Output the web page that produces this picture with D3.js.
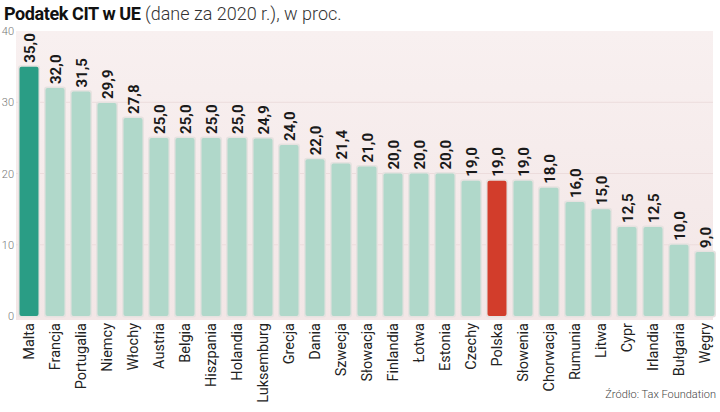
<!DOCTYPE html>
<html>
<head>
<meta charset="utf-8">
<script src="https://cdn.jsdelivr.net/npm/d3@7"></script>
<style>
  body { margin: 0; background: #fff; }
  svg { display: block; }
</style>
</head>
<body>
<svg id="chart" width="720" height="412"></svg>
<script>
// CIT rates in the EU, 2020
const countries = ['Malta', 'Francja', 'Portugalia', 'Niemcy', 'Włochy', 'Austria', 'Belgia',
    'Hiszpania', 'Holandia', 'Luksemburg', 'Grecja', 'Dania', 'Szwecja', 'Słowacja', 'Finlandia',
    'Łotwa', 'Estonia', 'Czechy', 'Polska', 'Słowenia', 'Chorwacja', 'Rumunia', 'Litwa', 'Cypr',
    'Irlandia', 'Bułgaria', 'Węgry'];
const rates = [35.0, 32.0, 31.5, 29.9, 27.8, 25.0, 25.0, 25.0, 25.0, 24.9, 24.0, 22.0, 21.4, 21.0,
    20.0, 20.0, 20.0, 19.0, 19.0, 19.0, 18.0, 16.0, 15.0, 12.5, 12.5, 10.0, 9.0];
const yTicks = [0, 10, 20, 30, 40];

const dataset = countries.map((c, i) => ({ name: c, value: rates[i] }));

const svg = d3.select('#chart');
const plotLeft = 16, plotRight = 713, plotTop = 31, plotBottom = 316;

//background gradient
const defs = svg.append('defs');
const grad = defs.append('linearGradient')
    .attr('id', 'bg').attr('x1', 0).attr('y1', 0).attr('x2', 0).attr('y2', 1);
grad.append('stop').attr('offset', '0%').attr('stop-color', '#f8f0f0');
grad.append('stop').attr('offset', '100%').attr('stop-color', '#f3e6e6');

svg.append('rect')
    .attr('x', plotLeft).attr('y', plotTop)
    .attr('width', plotRight - plotLeft).attr('height', plotBottom - plotTop + 4)
    .attr('fill', 'url(#bg)');

let xScale = d3.scaleBand()
    .domain(countries)
    .range([plotLeft, plotLeft + 26 * countries.length])
    .paddingInner(0.27)
    .paddingOuter(0.135);

let yScale = d3.scaleLinear()
    .domain([0, 40])
    .range([plotBottom, plotTop]);

//grid lines
svg.append('g')
    .selectAll('line')
    .data(yTicks.slice(1, 4))
    .enter()
    .append('line')
    .attr('x1', plotLeft).attr('x2', plotRight)
    .attr('y1', d => yScale(d)).attr('y2', d => yScale(d))
    .attr('stroke', '#ecdcdc')
    .attr('stroke-width', 1);

//y axis labels
let yAxis = d3.axisLeft(yScale).tickValues(yTicks).tickSize(0).tickPadding(0);
svg.append('g')
    .attr('transform', `translate(14,0)`)
    .call(yAxis)
    .call(g => g.select('.domain').remove())
    .selectAll('text')
    .attr('font-family', 'Roboto, sans-serif')
    .attr('font-weight', 300)
    .attr('font-size', '11px')
    .attr('fill', '#777');

const colour = d => d.name === 'Malta' ? '#2a9d85' : (d.name === 'Polska' ? '#d23d2b' : '#b0d8ca');

//bars with pale halo
svg.append('g')
    .selectAll('rect')
    .data(dataset)
    .enter()
    .append('rect')
    .attr('x', d => xScale(d.name) - 1.5)
    .attr('y', d => yScale(d.value) - 1.5)
    .attr('width', xScale.bandwidth() + 3)
    .attr('height', d => plotBottom - yScale(d.value) + 3)
    .attr('rx', 3)
    .attr('fill', '#e6e2e0');

svg.append('g')
    .selectAll('rect')
    .data(dataset)
    .enter()
    .append('rect')
    .attr('x', d => xScale(d.name))
    .attr('y', d => yScale(d.value))
    .attr('width', xScale.bandwidth())
    .attr('height', d => plotBottom - yScale(d.value))
    .attr('rx', 2)
    .attr('fill', colour);

//value labels
svg.append('g')
    .selectAll('text')
    .data(dataset)
    .enter()
    .append('text')
    .attr('transform', d => `translate(${xScale(d.name) + xScale.bandwidth() / 2 + 5.5},${yScale(d.value) - 4}) rotate(-90)`)
    .attr('font-family', 'Roboto, sans-serif')
    .attr('font-weight', 'bold')
    .attr('font-size', '15px')
    .attr('fill', '#1a1a1a')
    .text(d => d3.format('.1f')(d.value).replace('.', ','));

//category labels
svg.append('g')
    .selectAll('text')
    .data(dataset)
    .enter()
    .append('text')
    .attr('transform', d => `translate(${xScale(d.name) + xScale.bandwidth() / 2 + 5},323) rotate(-90)`)
    .attr('text-anchor', 'end')
    .attr('font-family', 'Roboto, sans-serif')
    .attr('font-size', '14.5px')
    .attr('fill', '#222')
    .text(d => d.name);

//title
const title = svg.append('text')
    .attr('x', 4).attr('y', 20)
    .attr('font-family', 'Roboto, sans-serif')
    .attr('font-size', '18px')
    .attr('fill', '#111');
title.append('tspan').attr('font-weight', 'bold').attr('letter-spacing', '-0.4').text('Podatek CIT w UE');
title.append('tspan').attr('font-weight', 300).attr('fill', '#333').text(' (dane za 2020 r.), w proc.');

//source
svg.append('text')
    .attr('x', 716).attr('y', 398)
    .attr('text-anchor', 'end')
    .attr('font-family', 'Roboto, sans-serif')
    .attr('font-weight', 300)
    .attr('font-size', '11px')
    .attr('fill', '#444')
    .text('Źródło: Tax Foundation');
</script>
</body>
</html>
